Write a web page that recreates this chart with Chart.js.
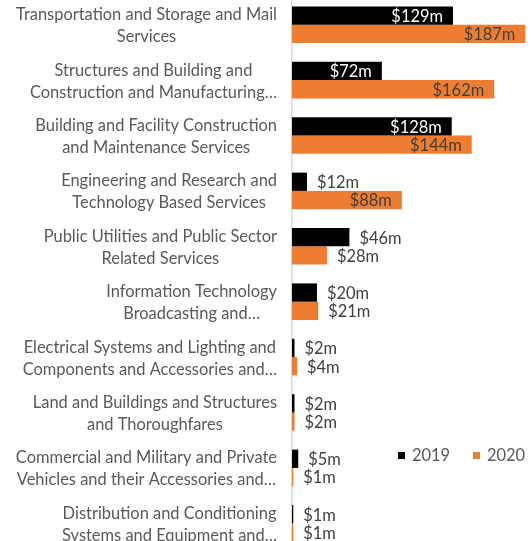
<!DOCTYPE html>
<html>
<head>
<meta charset="utf-8">
<script src="https://cdn.jsdelivr.net/npm/chart.js@4.4.1/dist/chart.umd.min.js"></script>
<style>
  html, body { margin: 0; padding: 0; background: #fff; overflow: hidden; }
  #wrap { position: absolute; left: 0; top: -3px; width: 531px; height: 554px; }
</style>
</head>
<body>
<div id="wrap"><canvas id="chart"></canvas></div>
<script>
const categories = [
  ["Transportation and Storage and Mail", "Services"],
  ["Structures and Building and", "Construction and Manufacturing…"],
  ["Building and Facility Construction", "and Maintenance Services"],
  ["Engineering and Research and", "Technology Based Services"],
  ["Public Utilities and Public Sector", "Related Services"],
  ["Information Technology", "Broadcasting and…"],
  ["Electrical Systems and Lighting and", "Components and Accessories and…"],
  ["Land and Buildings and Structures", "and Thoroughfares"],
  ["Commercial and Military and Private", "Vehicles and their Accessories and…"],
  ["Distribution and Conditioning", "Systems and Equipment and…"]
];
const values2019 = [129, 72, 128, 12, 46, 20, 2, 2, 5, 1];
const values2020 = [187, 162, 144, 88, 28, 21, 4, 2, 1, 1];
const seriesNames = ["2019", "2020"];

// Calibri-ish look: a bit taller font, squeezed horizontally to the original widths
const font = "16.8px Lato, 'Open Sans', sans-serif";
const probe = document.createElement("canvas").getContext("2d");
probe.font = font;
const sx = 261 / probe.measureText("Transportation and Storage and Mail").width;

const fmt = v => "$" + Math.round(v) + "m";

function text(ctx, s, x, y, align, color) {
  ctx.save();
  ctx.translate(x, y);
  ctx.scale(sx, 1);
  ctx.font = font;
  ctx.textAlign = align;
  ctx.textBaseline = "middle";
  ctx.fillStyle = color;
  ctx.fillText(s, 0, 0);
  ctx.restore();
}
function width(ctx, s) {
  ctx.save();
  ctx.font = font;
  const w = ctx.measureText(s).width * sx;
  ctx.restore();
  return w;
}

// category labels: block right-aligned, lines centred inside the block
const catLabels = {
  id: "catLabels",
  afterDraw(chart) {
    const ctx = chart.ctx, y = chart.scales.y;
    categories.forEach((lines, i) => {
      const cy = y.getPixelForValue(i) + 1;
      const w = Math.max(...lines.map(l => width(ctx, l)));
      const cx = 277 - w / 2;
      lines.forEach((l, j) => text(ctx, l, cx, cy + (j - (lines.length - 1) / 2) * 22, "center", "#595959"));
    });
  }
};

// value labels: inside end when the bar is long enough, outside otherwise
const valueLabels = {
  id: "valueLabels",
  afterDatasetsDraw(chart) {
    const ctx = chart.ctx;
    chart.data.datasets.forEach((ds, di) => {
      chart.getDatasetMeta(di).data.forEach((bar, i) => {
        const s = fmt(ds.data[i]);
        const len = bar.x - bar.base;
        if (len > width(ctx, s) + 20) {
          text(ctx, s, bar.x - 10, bar.y + 1, "right", di === 0 ? "#ffffff" : "#404040");
        } else {
          text(ctx, s, bar.x + 10, bar.y + 1, "left", "#404040");
        }
      });
    });
  }
};

// legend sitting inside the plot, lower right
const legendBox = {
  id: "legendBox",
  afterDraw(chart) {
    const ctx = chart.ctx;
    const spots = [398, 473];
    chart.data.datasets.forEach((ds, i) => {
      ctx.fillStyle = ds.backgroundColor;
      ctx.fillRect(spots[i], 455, 7, 7);
      text(ctx, ds.label, spots[i] + 14, 459, "left", "#595959");
    });
  }
};

new Chart(document.getElementById("chart"), {
  type: "bar",
  data: {
    labels: categories,
    datasets: [
      { label: seriesNames[0], data: values2019, backgroundColor: "#000000" },
      { label: seriesNames[1], data: values2020, backgroundColor: "#ED7D31" }
    ]
  },
  options: {
    indexAxis: "y",
    responsive: true,
    maintainAspectRatio: false,
    animation: false,
    layout: { padding: 0 },
    categoryPercentage: 0.66,
    barPercentage: 1.0,
    plugins: { legend: { display: false }, tooltip: { enabled: false } },
    scales: {
      x: { display: false, min: 0, max: 191.5 },
      y: {
        grid: { display: false },
        border: { display: true, color: "#d9d9d9", width: 1.5 },
        ticks: { display: false },
        afterFit(scale) { scale.width = 292; }
      }
    }
  },
  plugins: [catLabels, valueLabels, legendBox]
});
</script>
</body>
</html>
